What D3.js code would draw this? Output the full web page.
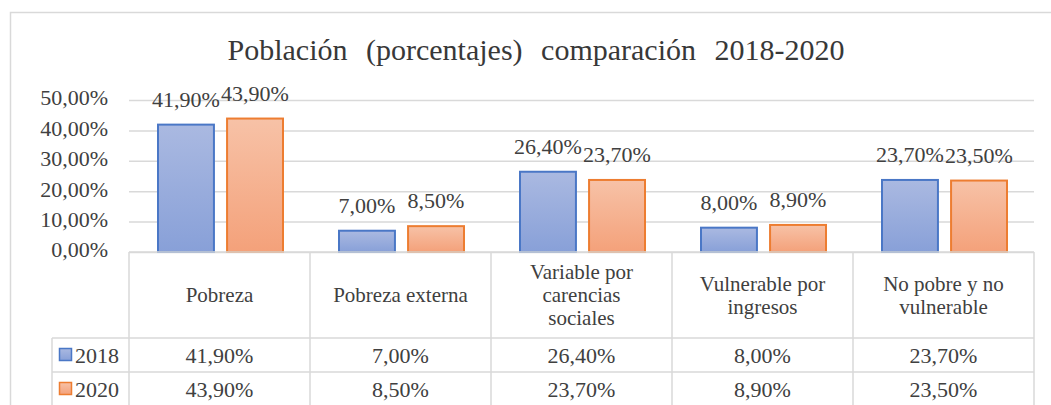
<!DOCTYPE html>
<html>
<head>
<meta charset="utf-8">
<script src="https://cdn.jsdelivr.net/npm/d3@7"></script>
<style>
  body { margin: 0; background: #fff; }
</style>
</head>
<body>
<div id="chart"></div>
<script>
const categories = [
    ["Pobreza"],
    ["Pobreza externa"],
    ["Variable por", "carencias", "sociales"],
    ["Vulnerable por", "ingresos"],
    ["No pobre y no", "vulnerable"]
];
const seriesNames = ["2018", "2020"];
const values2018 = [41.9, 7.0, 26.4, 8.0, 23.7];
const values2020 = [43.9, 8.5, 23.7, 8.9, 23.5];
const yTicks = [0, 10, 20, 30, 40, 50];
const title = "Población (porcentajes) comparación 2018-2020";

const series = [
    { name: seriesNames[0], values: values2018, top: "#aab9e1", bottom: "#88a0d8", stroke: "#4a77c6" },
    { name: seriesNames[1], values: values2020, top: "#f7c2a7", bottom: "#f4a17a", stroke: "#ed7d31" }
];

const fmt = v => v.toFixed(2).replace(".", ",") + "%";
const serif = "'Liberation Serif', 'DejaVu Serif', serif";
const ink = "#404040";

const width = 1051, height = 405;
const plot = { left: 129, right: 1034, top: 100, bottom: 252 };
const grid = "#d9d9d9";

const svg = d3.select("#chart")
    .append("svg")
    .attr("width", width)
    .attr("height", height)
    .attr("font-family", serif);

const defs = svg.append("defs");
series.forEach((s, i) => {
    const g = defs.append("linearGradient")
        .attr("id", "grad" + i)
        .attr("x1", 0).attr("y1", 0).attr("x2", 0).attr("y2", 1);
    g.append("stop").attr("offset", "0%").attr("stop-color", s.top);
    g.append("stop").attr("offset", "100%").attr("stop-color", s.bottom);
});

// chart frame (top + left edges visible)
svg.append("path")
    .attr("d", `M10.5,${height} L10.5,12.5 L${width},12.5`)
    .attr("fill", "none")
    .attr("stroke", grid)
    .attr("stroke-width", 1.5);

svg.append("text")
    .attr("x", 536)
    .attr("y", 60)
    .attr("text-anchor", "middle")
    .attr("font-family", serif)
    .attr("font-size", 30)
    .attr("word-spacing", 11)
    .attr("fill", "#383838")
    .text(title);

const x0 = d3.scaleBand()
    .domain(d3.range(categories.length))
    .range([plot.left, plot.right]);

const bw = x0.bandwidth();
const x1 = d3.scaleBand()
    .domain(d3.range(series.length))
    .range([(bw - 125) / 2 + 1, (bw + 125) / 2 + 1])
    .paddingInner(0.19);

const y = d3.scaleLinear()
    .domain([0, 50])
    .range([plot.bottom, plot.top]);

// gridlines + y labels
const yAxis = svg.append("g")
    .attr("transform", `translate(${plot.left},0)`)
    .call(d3.axisLeft(y)
        .tickValues(yTicks)
        .tickSize(-(plot.right - plot.left))
        .tickPadding(21)
        .tickFormat(fmt));
yAxis.attr("font-family", serif).attr("font-size", 22);
yAxis.select(".domain").remove();
yAxis.selectAll(".tick line").attr("stroke", grid).attr("stroke-width", 1.5);
yAxis.selectAll(".tick text")
    .attr("fill", ink)
    .attr("dy", "0.22em");

// bars
const catG = svg.selectAll(".cat")
    .data(categories)
    .join("g")
    .attr("transform", (d, i) => `translate(${x0(i)},0)`);

series.forEach((s, si) => {
    catG.append("rect")
        .attr("x", (d, i) => x1(si))
        .attr("y", (d, i) => y(s.values[i]))
        .attr("width", x1.bandwidth())
        .attr("height", (d, i) => y(0) - y(s.values[i]))
        .attr("fill", `url(#grad${si})`)
        .attr("stroke", s.stroke)
        .attr("stroke-width", 2);

    catG.append("text")
        .attr("x", (d, i) => x1(si) + x1.bandwidth() / 2)
        .attr("y", (d, i) => y(s.values[i]) - 18)
        .attr("text-anchor", "middle")
        .attr("font-family", serif)
        .attr("font-size", 22)
        .attr("fill", ink)
        .text((d, i) => fmt(s.values[i]));
});

// data table
const rowY = [plot.bottom, 338, 372, 406];
const tbl = svg.append("g").attr("stroke", grid).attr("stroke-width", 1.5).attr("fill", "none");

tbl.append("line").attr("x1", plot.left).attr("x2", plot.right).attr("y1", rowY[0]).attr("y2", rowY[0]);
tbl.append("line").attr("x1", 52).attr("x2", plot.right).attr("y1", rowY[1]).attr("y2", rowY[1]);
tbl.append("line").attr("x1", 52).attr("x2", plot.right).attr("y1", rowY[2]).attr("y2", rowY[2]);
tbl.append("line").attr("x1", 52).attr("x2", 52).attr("y1", rowY[1]).attr("y2", height);
tbl.selectAll(".vl")
    .data(d3.range(categories.length + 1))
    .join("line")
    .attr("x1", i => i < categories.length ? x0(i) : plot.right)
    .attr("x2", i => i < categories.length ? x0(i) : plot.right)
    .attr("y1", rowY[0])
    .attr("y2", height);

// header labels
const headMid = (rowY[0] + rowY[1]) / 2;
catG.each(function(lines, i) {
    const t = d3.select(this).append("text")
        .attr("text-anchor", "middle")
        .attr("font-family", serif)
        .attr("font-size", 21)
        .attr("fill", ink);
    lines.forEach((ln, k) => {
        t.append("tspan")
            .attr("x", bw / 2)
            .attr("y", headMid + 7 + (k - (lines.length - 1) / 2) * 23)
            .text(ln);
    });
});

// value rows + legend keys
series.forEach((s, si) => {
    const mid = (rowY[si + 1] + rowY[si + 2]) / 2;
    svg.append("rect")
        .attr("x", 59.5).attr("y", mid - 6.5)
        .attr("width", 12).attr("height", 12)
        .attr("fill", `url(#grad${si})`)
        .attr("stroke", s.stroke)
        .attr("stroke-width", 1.5);
    svg.append("text")
        .attr("x", 75)
        .attr("y", mid + 8)
        .attr("font-family", serif)
        .attr("font-size", 22)
        .attr("fill", ink)
        .text(s.name);
    catG.append("text")
        .attr("x", bw / 2)
        .attr("y", mid + 8)
        .attr("text-anchor", "middle")
        .attr("font-family", serif)
        .attr("font-size", 22)
        .attr("fill", ink)
        .text((d, i) => fmt(s.values[i]));
});
</script>
</body>
</html>
